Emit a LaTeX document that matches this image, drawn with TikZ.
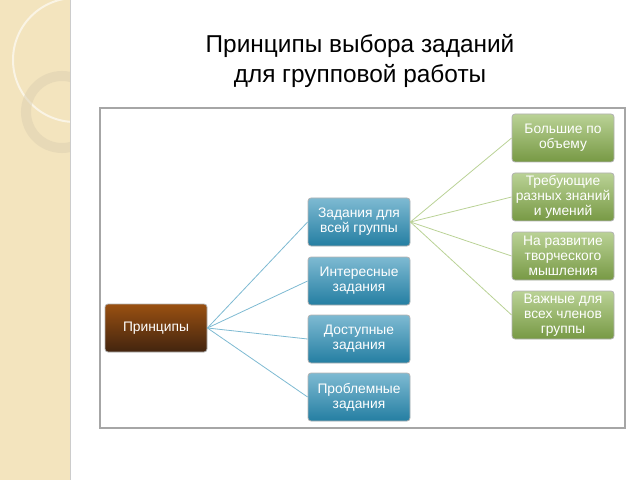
\documentclass[tikz,border=0pt]{standalone}
\usepackage{fontspec}
\setmainfont{Liberation Sans}
\usetikzlibrary{positioning}
\begin{document}
\begin{tikzpicture}[x=0.5pt,y=-0.5pt]
  \definecolor{strip_color}{RGB}{243,228,190}
  \definecolor{blue_color}{RGB}{40,140,180}
  \definecolor{green_color}{RGB}{140,180,80}
  \definecolor{root_color}{RGB}{110,60,25}
  \tikzstyle{box} = [draw=gray!60, rounded corners=1.5pt, text=white, align=center,
    font=\fontsize{6.9}{7.4}\selectfont, minimum width=51pt, minimum height=24pt, inner sep=1pt]
  \tikzstyle{bluebox} = [box, top color=blue_color!60, bottom color=blue_color!90!black]
  \tikzstyle{greenbox} = [box, top color=green_color!60, bottom color=green_color!85!black]
  \tikzstyle{link} = [thin, draw=blue_color!60]
  \tikzstyle{glink} = [thin, draw=green_color!60]
  \useasboundingbox (0,0) rectangle (640,480);
  % left strip
  \fill[strip_color] (0,0) rectangle (70,480);
  \begin{scope}
    \clip (0,0) rectangle (70,480);
    \draw[white!60!strip_color, line width=1pt] (75,60) circle (62);
    \draw[strip_color!80!gray, line width=5pt, opacity=0.5] (62,112) circle (36);
  \end{scope}
  \draw[gray!40] (70,0) -- (70,480);
  % title
  \node[font=\fontsize{12.2}{15}\selectfont, align=center] (title) at (360,61)
    {Принципы выбора заданий\\для групповой работы};
  % frame
  \draw[gray!70, line width=0.7pt] (100,108) rectangle (625,428);
  % nodes
  \node[box, top color=root_color!70!orange, bottom color=root_color!60!black] (root) at (156,328) {Принципы};
  \node[bluebox] (b1) at (359,222) {Задания для\\всей группы};
  \node[bluebox] (b2) at (359,281) {Интересные\\задания};
  \node[bluebox] (b3) at (359,339) {Доступные\\задания};
  \node[bluebox] (b4) at (359,397) {Проблемные\\задания};
  \node[greenbox] (g1) at (563,138) {Большие по\\объему};
  \node[greenbox] (g2) at (563,197) {Требующие\\разных знаний\\и умений};
  \node[greenbox] (g3) at (563,256) {На развитие\\творческого\\мышления};
  \node[greenbox] (g4) at (563,315) {Важные для\\всех членов\\группы};
  % links
  \foreach \b in {b1,b2,b3,b4}
    \draw[link] (root.east) -- (\b.west);
  \foreach \g in {g1,g2,g3,g4}
    \draw[glink] (b1.east) -- (\g.west);
\end{tikzpicture}
\end{document}
